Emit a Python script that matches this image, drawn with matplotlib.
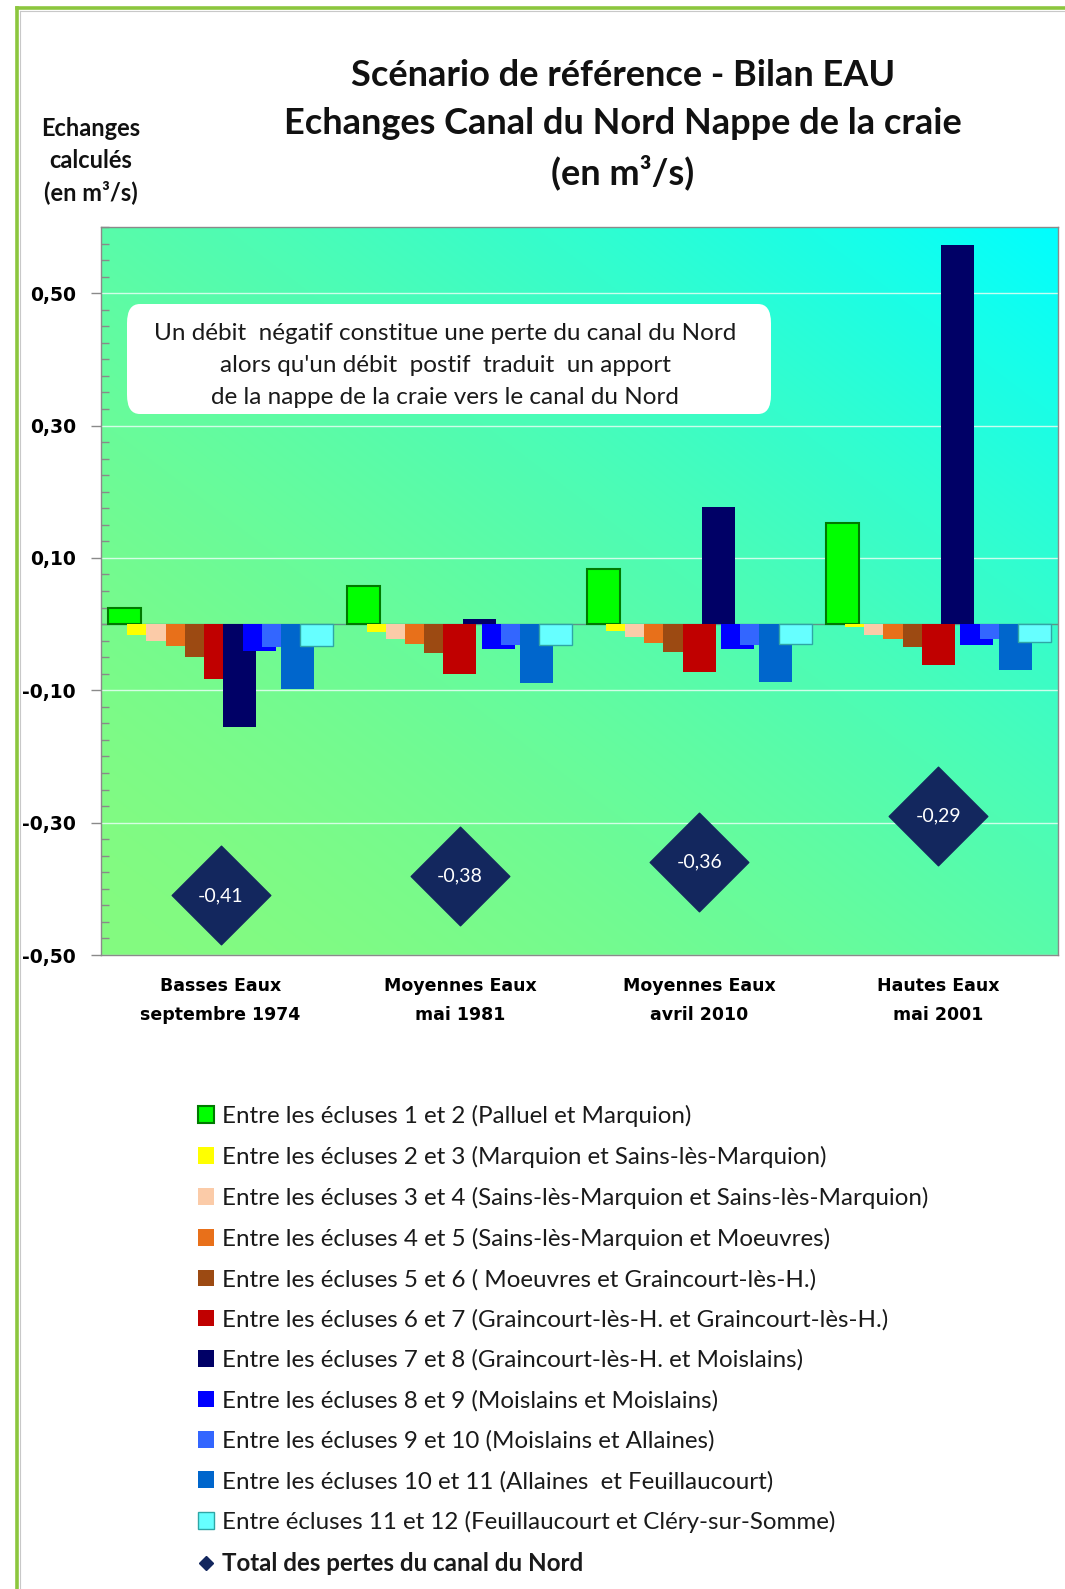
import numpy as np
import matplotlib
matplotlib.use("Agg")
import matplotlib.pyplot as plt
from matplotlib.lines import Line2D
from matplotlib.patches import FancyBboxPatch
from matplotlib.ticker import FixedLocator, MultipleLocator, FuncFormatter
from matplotlib.path import Path

# ---------------- data ----------------
categories = ["Basses Eaux\nseptembre 1974", "Moyennes Eaux\nmai 1981",
              "Moyennes Eaux\navril 2010", "Hautes Eaux\nmai 2001"]

series_labels = [
    "Entre les écluses 1 et 2 (Palluel et Marquion)",
    "Entre les écluses 2 et 3 (Marquion et Sains-lès-Marquion)",
    "Entre les écluses 3 et 4 (Sains-lès-Marquion et Sains-lès-Marquion)",
    "Entre les écluses 4 et 5 (Sains-lès-Marquion et Moeuvres)",
    "Entre les écluses 5 et 6 ( Moeuvres et Graincourt-lès-H.)",
    "Entre les écluses 6 et 7 (Graincourt-lès-H. et Graincourt-lès-H.)",
    "Entre les écluses 7 et 8 (Graincourt-lès-H. et Moislains)",
    "Entre les écluses 8 et 9 (Moislains et Moislains)",
    "Entre les écluses 9 et 10 (Moislains et Allaines)",
    "Entre les écluses 10 et 11 (Allaines  et Feuillaucourt)",
    "Entre écluses 11 et 12 (Feuillaucourt et Cléry-sur-Somme)",
]
total_label = "Total des pertes du canal du Nord"

s01 = [0.025, 0.057, 0.083, 0.152]
s02 = [-0.017, -0.012, -0.011, -0.005]
s03 = [-0.025, -0.022, -0.020, -0.017]
s04 = [-0.033, -0.030, -0.028, -0.022]
s05 = [-0.049, -0.044, -0.042, -0.035]
s06 = [-0.083, -0.076, -0.073, -0.062]
s07 = [-0.155, 0.007, 0.177, 0.573]
s08 = [-0.041, -0.038, -0.037, -0.031]
s09 = [-0.035, -0.032, -0.031, -0.022]
s10 = [-0.098, -0.089, -0.087, -0.070]
s11 = [-0.033, -0.032, -0.030, -0.027]
totals = [-0.41, -0.38, -0.36, -0.29]

yticks = [-0.5, -0.3, -0.1, 0.1, 0.3, 0.5]

series = [s01, s02, s03, s04, s05, s06, s07, s08, s09, s10, s11]
face_colors = ["#00FF00", "#FFFF00", "#FBCBA8", "#E8701A", "#9C4A12", "#C00000",
               "#000066", "#0000FF", "#3366FF", "#0066CC", "#66FFFF"]
edge_colors = ["#007A00", "#FFFF00", "#FBCBA8", "#E8701A", "#9C4A12", "#C00000",
               "#000066", "#0000FF", "#3366FF", "#0066CC", "#2FA6A6"]
edge_widths = [1.5, 0, 0, 0, 0, 0, 0, 0, 0, 0, 1.0]
navy = "#13275E"

# ---------------- figure ----------------
W, H = 1065, 1589
fig = plt.figure(figsize=(W / 100, H / 100), dpi=100)
fig.patch.set_facecolor("white")

def fx(px):
    return px / W

def fy(py):
    return 1 - py / H

ax_left, ax_right, ax_top, ax_bot = 101, 1058, 227, 955
ax = fig.add_axes([fx(ax_left), fy(ax_bot), fx(ax_right - ax_left), (ax_bot - ax_top) / H])

# gradient background
n = 300
gx = np.linspace(0, 1, n)
gy = np.linspace(0, 1, n)
GX, GY = np.meshgrid(gx, gy)
t = ((GX + GY) / 2) ** 1.6
c0 = np.array([0x84, 0xFA, 0x80]) / 255
c1 = np.array([0x00, 0xFF, 0xFF]) / 255
img = c0[None, None, :] * (1 - t[..., None]) + c1[None, None, :] * t[..., None]
ax.imshow(img, extent=[0, 1, 0, 1], transform=ax.transAxes, origin="lower",
          aspect="auto", zorder=0)

ax.set_xlim(-0.5, 3.5)
ax.set_ylim(-0.5, 0.6)

# grid
for v in yticks:
    ax.axhline(v, color="#E6FFF4", lw=1.0, alpha=0.85, zorder=1)
ax.axhline(0, color="#5E9486", lw=1.0, zorder=1.5)

# bars
x = np.arange(len(categories))
step = 0.0803
width = 0.138
nser = len(series)
handles = []
for i, (vals, fc, ec, lw, lab) in enumerate(zip(series, face_colors, edge_colors,
                                                 edge_widths, series_labels)):
    off = (i - (nser - 1) / 2) * step
    bc = ax.bar(x + off, vals, width=width, color=fc, edgecolor=ec,
                linewidth=lw, label=lab, zorder=2 + i * 0.01)
    handles.append(bc)

# totals diamonds
diamond = Path([(0, 1), (1, 0), (0, -1), (-1, 0), (0, 1)],
               [Path.MOVETO, Path.LINETO, Path.LINETO, Path.LINETO, Path.CLOSEPOLY])
ax.plot(x, totals, ls="none", marker=diamond, markersize=71, color=navy,
        markeredgecolor=navy, zorder=5)
for xi, v in zip(x, totals):
    ax.text(xi, v, f"{v:.2f}".replace(".", ","), color="white", ha="center",
            va="center", fontsize=14, family=["Lato", "DejaVu Sans"], zorder=6)

# axes styling
for sp in ax.spines.values():
    sp.set_color("#8A8A8A")
    sp.set_linewidth(1.0)
    sp.set_zorder(7)
ax.yaxis.set_major_locator(FixedLocator(yticks))
ax.yaxis.set_minor_locator(MultipleLocator(0.025))
ax.yaxis.set_major_formatter(FuncFormatter(lambda v, p: f"{v:.2f}".replace(".", ",")))
ax.tick_params(axis="y", which="major", direction="out", length=7, width=1,
               color="#8A8A8A", labelsize=13.5, pad=11)
ax.tick_params(axis="y", which="minor", direction="in", length=6, width=1,
               color="#8A8A8A")
for lbl in ax.get_yticklabels():
    lbl.set_fontweight("bold")
    lbl.set_family(["DejaVu Sans"])
ax.set_xticks(x)
ax.set_xticklabels(categories, fontsize=12.5, fontweight="bold", linespacing=1.75)
ax.tick_params(axis="x", length=0, pad=16)

# info box
bx0, bx1, by0, by1 = 127, 771, 304, 414
box = FancyBboxPatch((fx(bx0), fy(by1)), fx(bx1 - bx0), (by1 - by0) / H,
                     boxstyle="round,pad=0,rounding_size=0.012",
                     transform=fig.transFigure, facecolor="white", edgecolor="none",
                     zorder=10)
fig.add_artist(box)
box_lines = ["Un débit  négatif constitue une perte du canal du Nord",
             "alors qu'un débit  postif  traduit  un apport",
             "de la nappe de la craie vers le canal du Nord"]
for txt, py in zip(box_lines, [333, 365, 397]):
    fig.text(fx(445), fy(py), txt, ha="center", va="center", fontsize=17.5,
             family=["Lato", "DejaVu Sans"], color="#1A1A1A", zorder=11)

# titles
title_lines = ["Scénario de référence - Bilan EAU",
               "Echanges Canal du Nord Nappe de la craie",
               "(en m³/s)"]
for txt, py in zip(title_lines, [76, 124, 172]):
    fig.text(fx(623), fy(py), txt, ha="center", va="center", fontsize=26,
             fontweight="bold", family=["Lato", "DejaVu Sans"], color="#111111")

# y-axis label
for txt, py in zip(["Echanges", "calculés", "(en m³/s)"], [129, 160, 192]):
    fig.text(fx(91), fy(py), txt, ha="center", va="center", fontsize=17,
             fontweight="bold", family=["Lato", "DejaVu Sans"], color="#111111")

# legend
tot_handle = Line2D([], [], ls="none", marker="D", markersize=7, color=navy)
leg = fig.legend(handles + [tot_handle], series_labels + [total_label],
                 loc="upper left", bbox_to_anchor=(fx(198), fy(1105)),
                 frameon=False, prop={"family": ["Lato", "DejaVu Sans"], "size": 17.4},
                 handlelength=0.68, handleheight=0.68, handletextpad=0.3,
                 labelspacing=0.78, borderpad=0, borderaxespad=0)
for tx in leg.get_texts():
    tx.set_color("#1A1A1A")
leg.get_texts()[-1].set_fontweight("bold")

# green frame
frame_col = "#8CC63E"
fig.add_artist(Line2D([fx(17), 1.0], [fy(8), fy(8)], transform=fig.transFigure,
                      color=frame_col, lw=2.6))
fig.add_artist(Line2D([fx(17), fx(17)], [fy(8), 0.0], transform=fig.transFigure,
                      color=frame_col, lw=2.6))
fig.add_artist(Line2D([fx(20), 1.0], [fy(11), fy(11)], transform=fig.transFigure,
                      color="#C8C8C8", lw=0.8))
fig.add_artist(Line2D([fx(20), fx(20)], [fy(11), 0.0], transform=fig.transFigure,
                      color="#C8C8C8", lw=0.8))

fig.savefig("out.png", dpi=100, facecolor="white")
